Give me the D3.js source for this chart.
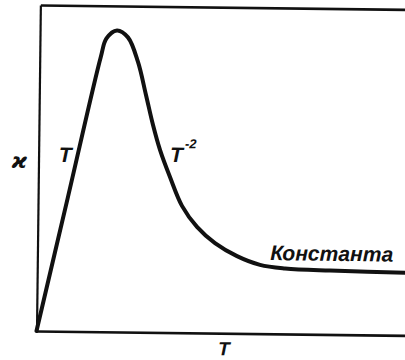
<!DOCTYPE html>
<html>
<head>
<meta charset="utf-8">
<script src="https://cdn.jsdelivr.net/npm/d3@7"></script>
<style>
  html, body { margin: 0; padding: 0; background: #fff; }
  svg { display: block; }
  text { font-family: "Liberation Sans", Arial, sans-serif; font-style: italic; font-weight: bold; fill: #111; }
</style>
</head>
<body>
<div id="chart"></div>
<script>
// Thermal conductivity κ of a dielectric crystal versus temperature T (arbitrary units)
const temperature = [0, 0.80, 1.65, 1.80, 2.082, 2.381, 2.660, 2.887, 3.087, 3.284, 3.563, 3.897, 4.310, 4.802, 5.402, 6.027, 6.705, 7.924, 10.2];
const conductivity = [0, 4.08, 8.42, 9.00, 9.25, 9.04, 8.29, 7.28, 6.36, 5.60, 4.77, 3.89, 3.25, 2.76, 2.37, 2.11, 2.01, 1.96, 1.92];

// Region labels: text, anchor T, anchor κ
const regionLabels = [
  { text: "T", t: 0.72, k: 5.19, anchor: "middle" },
  { text: "T", sup: "-2", t: 3.56, k: 5.23, anchor: "start" },
  { text: "Константа", t: 6.30, k: 2.26, anchor: "start", fit: 123 }
];
const axisLabels = { y: "ϰ", x: "T" };

const W = 405, H = 360;
const x0 = 36.5, y0 = 331;

const x = d3.scaleLinear().domain([0, 10]).range([x0, x0 + 369.5]);
const y = d3.scaleLinear().domain([0, 10]).range([y0, 5]);
const xFrame = x.copy().domain([0, 10.2]).range([x0, x(10.2)]);

const svg = d3.select("#chart").append("svg")
  .attr("width", W).attr("height", H)
  .style("background", "#fff");

// the whole drawing sits slightly tilted
const g = svg.append("g")
  .attr("transform", `rotate(0.68, ${x0}, ${y0})`);

// frame: left, bottom and top edges without ticks
g.append("g").attr("transform", `translate(${x0},0)`)
  .call(d3.axisLeft(y).tickValues([]).tickSizeOuter(0))
  .select(".domain").attr("stroke", "#111").attr("stroke-width", 2.2);
g.append("g").attr("transform", `translate(0,${y0})`)
  .call(d3.axisBottom(xFrame).tickValues([]).tickSizeOuter(0))
  .select(".domain").attr("stroke", "#111").attr("stroke-width", 2.6);
g.append("g").attr("transform", `translate(0,${y(10)})`)
  .call(d3.axisTop(xFrame).tickValues([]).tickSizeOuter(0))
  .select(".domain").attr("stroke", "#111").attr("stroke-width", 2.6);

// κ(T) curve
const pts = temperature.map((t, i) => [t, conductivity[i]]);
const line = d3.line()
  .x(d => x(d[0]))
  .y(d => y(d[1]))
  .curve(d3.curveCatmullRom.alpha(0.5));
g.append("path")
  .datum(pts)
  .attr("d", line)
  .attr("fill", "none")
  .attr("stroke", "#111")
  .attr("stroke-width", 4)
  .attr("stroke-linejoin", "round")
  .attr("stroke-linecap", "round");

// axis labels
g.append("text")
  .attr("x", x(0) - 19).attr("y", y(5))
  .attr("text-anchor", "middle")
  .style("font-family", "'DejaVu Sans', sans-serif")
  .style("font-size", "21px")
  .text(axisLabels.y);
g.append("text")
  .attr("x", x(5.08)).attr("y", y0 + 22)
  .attr("text-anchor", "middle")
  .style("font-size", "19px")
  .text(axisLabels.x);

// region labels
regionLabels.forEach(l => {
  const t = g.append("text")
    .attr("x", x(l.t)).attr("y", y(l.k))
    .attr("text-anchor", l.anchor)
    .style("font-size", "21px");
  t.append("tspan").text(l.text);
  if (l.sup) {
    t.append("tspan").attr("dx", 2).attr("dy", -14)
      .style("font-size", "13px").text(l.sup);
  }
  if (l.fit) {
    t.attr("textLength", l.fit).attr("lengthAdjust", "spacingAndGlyphs");
  }
});
</script>
</body>
</html>
